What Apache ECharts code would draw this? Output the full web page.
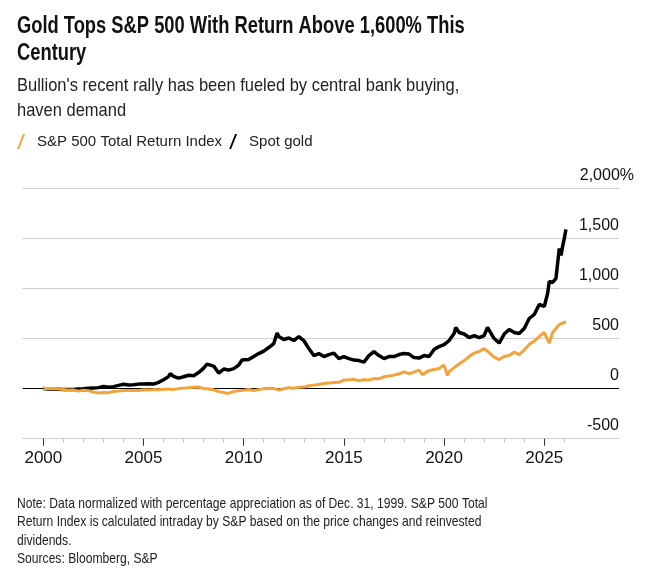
<!DOCTYPE html>
<html lang="en">
<head>
<meta charset="UTF-8">
<title>Gold Tops S&amp;P 500</title>
<script src="https://cdn.jsdelivr.net/npm/echarts@6/dist/echarts.min.js"></script>
<style>
    html, body { margin: 0; padding: 0; background: #fff; }
    #chart { width: 657px; height: 577px; }
</style>
</head>
<body>
<div id="chart"></div>
<script>
// dates (YYYY-MM) and % change since Dec. 31, 1999
var goldDates = ['2000-01','2000-04','2000-07','2000-10','2001-01','2001-04','2001-07','2001-10',
    '2002-01','2002-04','2002-07','2002-10','2003-01','2003-04','2003-07','2003-10',
    '2004-01','2004-04','2004-07','2004-10','2005-01','2005-04','2005-07','2005-10',
    '2006-01','2006-04','2006-05','2006-07','2006-10','2007-01','2007-04','2007-07','2007-10',
    '2008-01','2008-03','2008-07','2008-10','2009-01','2009-04','2009-07','2009-10','2009-12',
    '2010-01','2010-04','2010-07','2010-10','2011-01','2011-04','2011-07','2011-09','2011-10',
    '2012-01','2012-04','2012-07','2012-10','2013-01','2013-04','2013-07','2013-10',
    '2014-01','2014-04','2014-07','2014-10','2015-01','2015-04','2015-07','2015-10',
    '2016-01','2016-04','2016-07','2016-10','2017-01','2017-04','2017-07','2017-10',
    '2018-01','2018-04','2018-07','2018-10','2019-01','2019-04','2019-07','2019-10',
    '2020-01','2020-04','2020-07','2020-08','2020-10','2021-01','2021-04','2021-07','2021-10',
    '2022-01','2022-03','2022-07','2022-10','2023-01','2023-04','2023-07','2023-10',
    '2024-01','2024-04','2024-07','2024-10','2025-01','2025-03','2025-04','2025-06',
    '2025-08','2025-09','2025-10','2025-11','2025-12','2026-01','2026-02'];
var goldValues = [0,-3,-4,-6,-8,-10,-8,-4,
    -2,4,5,10,22,15,20,32,
    43,36,38,45,46,48,45,62,
    88,120,150,122,105,118,133,128,160,
    205,245,225,155,195,185,200,235,285,
    275,290,320,350,375,410,450,555,520,
    490,505,480,520,480,400,330,350,
    320,340,355,300,320,300,285,280,
    265,330,370,330,300,320,320,340,
    350,345,310,305,330,320,390,420,
    440,480,550,610,560,545,510,530,510,
    530,610,500,455,545,590,560,550,
    600,700,740,840,820,950,1070,1060,
    1100,1250,1400,1330,1420,1500,1590];

var spDates = ['2000-01','2000-04','2000-07','2000-10','2001-01','2001-04','2001-07','2001-10',
    '2002-01','2002-04','2002-07','2002-10','2003-01','2003-04','2003-07','2003-10',
    '2004-01','2004-04','2004-07','2004-10','2005-01','2005-04','2005-07','2005-10',
    '2006-01','2006-04','2006-07','2006-10','2007-01','2007-04','2007-07','2007-10',
    '2008-01','2008-04','2008-07','2008-10','2009-01','2009-03','2009-07','2009-10',
    '2010-01','2010-04','2010-07','2010-10','2011-01','2011-04','2011-07','2011-10',
    '2012-01','2012-04','2012-07','2012-10','2013-01','2013-04','2013-07','2013-10',
    '2014-01','2014-04','2014-07','2014-10','2015-01','2015-04','2015-07','2015-10',
    '2016-01','2016-02','2016-04','2016-07','2016-10','2017-01','2017-04','2017-07','2017-10',
    '2018-01','2018-04','2018-07','2018-10','2018-12','2019-01','2019-04','2019-07','2019-10',
    '2020-01','2020-03','2020-04','2020-07','2020-10','2021-01','2021-04','2021-07','2021-10',
    '2022-01','2022-04','2022-07','2022-10','2023-01','2023-04','2023-07','2023-10',
    '2024-01','2024-04','2024-07','2024-10','2025-01','2025-02','2025-04','2025-06',
    '2025-08','2025-10','2025-12','2026-02'];
var spValues = [0,2,0,-3,-8,-15,-14,-25,
    -17,-20,-35,-44,-38,-40,-28,-25,
    -19,-18,-19,-18,-12,-14,-10,-11,
    -7,-4,-8,0,5,8,14,16,
    0,-3,-12,-30,-38,-50,-30,-20,
    -16,-8,-20,-10,-2,3,2,-15,
    -2,8,4,13,15,28,35,42,
    52,55,62,63,85,88,92,80,
    88,78,86,100,98,118,125,135,148,
    168,150,165,185,140,150,180,190,200,
    235,130,170,210,245,280,320,355,370,
    400,360,315,290,320,330,365,340,
    385,440,475,520,560,570,455,560,
    600,640,655,665];

var majorYears = [2000, 2005, 2010, 2015, 2020, 2025];
var minorYears = [2001,2002,2003,2004,2006,2007,2008,2009,2011,2012,2013,2014,
    2016,2017,2018,2019,2021,2022,2023,2024,2026];

var titleLines = ['Gold Tops S&P 500 With Return Above 1,600% This', 'Century'];
var subtitleLines = ["Bullion's recent rally has been fueled by central bank buying,", 'haven demand'];
var noteLines = ['Note: Data normalized with percentage appreciation as of Dec. 31, 1999. S&P 500 Total',
    'Return Index is calculated intraday by S&P based on the price changes and reinvested',
    'dividends.', 'Sources: Bloomberg, S&P'];

var spColor = '#f2a33a';
var goldColor = '#000000';
var plain = "'Liberation Sans', Arial, sans-serif";

function toYear(s) {
    var p = s.split('-');
    return parseInt(p[0], 10) + (parseInt(p[1], 10) - 1) / 12;
}
function pairs(dates, vals) {
    var out = [];
    for (var i = 0; i < dates.length; i++) {
        out.push([toYear(dates[i]), vals[i]]);
    }
    return out;
}
function fmt(v) {
    var s = String(Math.abs(v)).replace(/\B(?=(\d{3})+(?!\d))/g, ',');
    return (v < 0 ? '-' : '') + s;
}

// text lines squeezed a bit to get the narrow look of the original typeface
function textLines(lines, y0, step, font, color, squeeze) {
    var els = [];
    for (var i = 0; i < lines.length; i++) {
        els.push({
            type: 'text',
            x: 17, y: y0 + i * step,
            scaleX: squeeze,
            silent: true,
            style: { text: lines[i], font: font, fill: color, align: 'left', verticalAlign: 'middle' }
        });
    }
    return els;
}

var chart = echarts.init(document.getElementById('chart'), null, { renderer: 'canvas' });

var graphics = []
    .concat(textLines(titleLines, 26.5, 27, "bold 23px 'Liberation Sans', Arial, sans-serif", '#111', 0.797))
    .concat(textLines(subtitleLines, 86, 25, "19px 'Liberation Sans', Arial, sans-serif", '#222', 0.868))
    .concat(textLines(noteLines, 504, 18.3, "14.5px 'Liberation Sans', Arial, sans-serif", '#222', 0.835));

var option = {
    backgroundColor: '#fff',
    animation: false,
    graphic: graphics,
    legend: {
        left: 17, top: 134, padding: 0,
        itemWidth: 8, itemHeight: 15, itemGap: 7,
        data: [
            { name: 'S&P 500 Total Return Index', icon: 'path://M0,15 L6,0 L8,0 L2,15 Z' },
            { name: 'Spot gold', icon: 'path://M0,15 L6,0 L8,0 L2,15 Z' }
        ],
        textStyle: { fontFamily: plain, fontSize: 15, color: '#222', padding: [0, 0, 0, 7] }
    },
    grid: { left: 22.7, right: 38, top: 188.3, bottom: 138.3, containLabel: false },
    xAxis: [{
        type: 'value',
        min: 1998.97, max: 2028.73,
        position: 'bottom',
        axisLine: { show: true, onZero: false, lineStyle: { color: '#cfcfcf', width: 1 } },
        axisTick: { show: true, customValues: majorYears, length: 7, lineStyle: { color: '#333', width: 1 } },
        axisLabel: {
            show: true, customValues: majorYears, margin: 11,
            fontFamily: plain, fontSize: 17, color: '#111',
            formatter: function (v) { return String(Math.round(v)); }
        },
        splitLine: { show: false }
    }, {
        type: 'value',
        min: 1998.97, max: 2028.73,
        position: 'bottom',
        axisLine: { show: false, onZero: false },
        axisTick: { show: true, customValues: minorYears, length: 4, lineStyle: { color: '#c8c8c8', width: 1 } },
        axisLabel: { show: false, customValues: minorYears },
        splitLine: { show: false }
    }],
    yAxis: {
        type: 'value',
        min: -500, max: 2000, interval: 500,
        position: 'right',
        axisLine: { show: false },
        axisTick: { show: false },
        axisLabel: {
            show: true, align: 'right', verticalAlign: 'bottom', margin: 15,
            padding: [0, 0, 5, 0],
            fontFamily: plain, fontSize: 16, color: '#111',
            formatter: function (v) {
                return v === 2000 ? '2,000%' : fmt(v) + '{p|}';
            },
            rich: { p: { width: 15, fontFamily: plain, fontSize: 16 } }
        },
        splitLine: {
            show: true,
            lineStyle: { color: ['#cfcfcf', '#000000', '#cfcfcf', '#cfcfcf', '#cfcfcf', '#cfcfcf'], width: 1 }
        }
    },
    series: [{
        name: 'Spot gold',
        type: 'line',
        xAxisIndex: 0,
        data: pairs(goldDates, goldValues),
        showSymbol: false,
        lineStyle: { color: goldColor, width: 3.5 },
        itemStyle: { color: goldColor }
    }, {
        name: 'S&P 500 Total Return Index',
        type: 'line',
        xAxisIndex: 0,
        data: pairs(spDates, spValues),
        showSymbol: false,
        lineStyle: { color: spColor, width: 3 },
        itemStyle: { color: spColor }
    }]
};

chart.setOption(option);
</script>
</body>
</html>
